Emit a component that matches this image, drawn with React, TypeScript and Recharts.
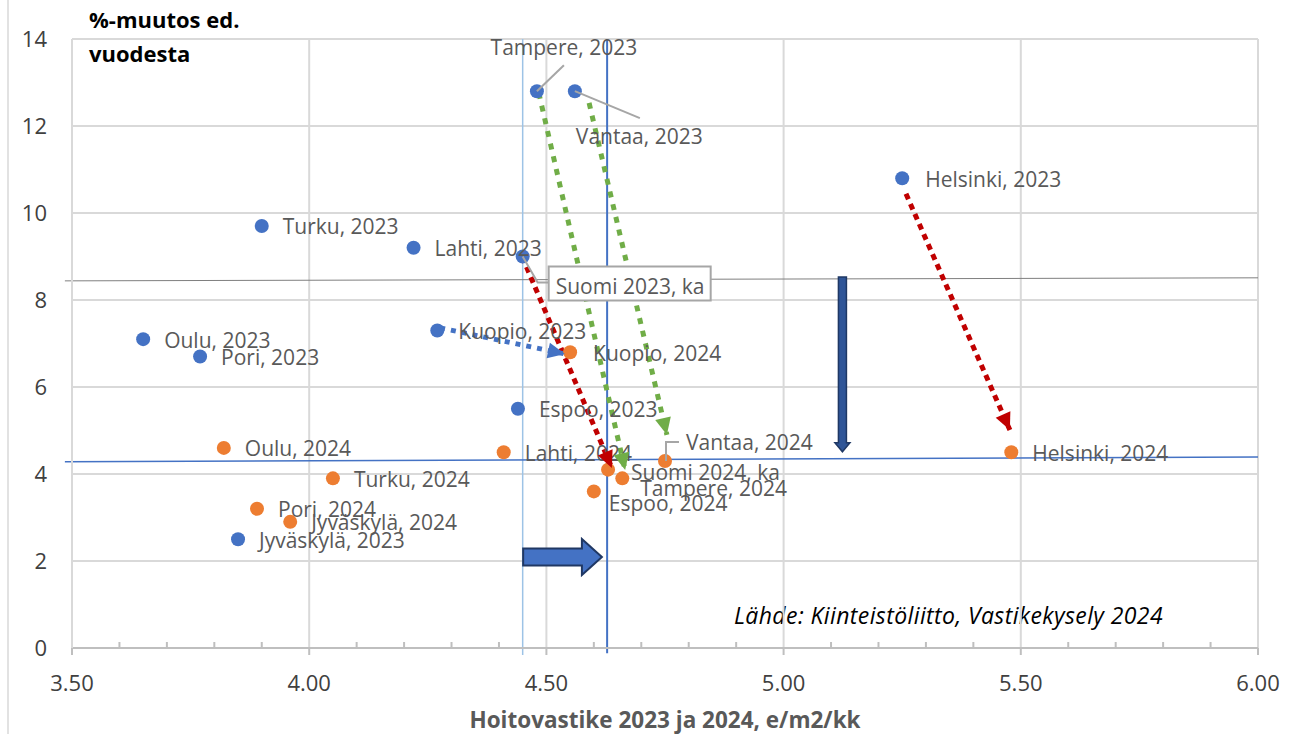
import React from 'react';
import {
  ComposedChart, Scatter, Line, XAxis, YAxis, CartesianGrid, ReferenceLine, Customized,
} from 'recharts';

// ---------- data ----------
const names2023 = ['Tampere, 2023', 'Vantaa, 2023', 'Helsinki, 2023', 'Turku, 2023', 'Lahti, 2023', 'Suomi 2023, ka', 'Kuopio, 2023', 'Oulu, 2023', 'Pori, 2023', 'Espoo, 2023', 'Jyväskylä, 2023'];
const x2023 = [4.48, 4.56, 5.25, 3.90, 4.22, 4.45, 4.27, 3.65, 3.77, 4.44, 3.85];
const y2023 = [12.8, 12.8, 10.8, 9.7, 9.2, 9.0, 7.3, 7.1, 6.7, 5.5, 2.5];

const names2024 = ['Kuopio, 2024', 'Oulu, 2024', 'Lahti, 2024', 'Vantaa, 2024', 'Helsinki, 2024', 'Turku, 2024', 'Suomi 2024, ka', 'Tampere, 2024', 'Espoo, 2024', 'Pori, 2024', 'Jyväskylä, 2024'];
const x2024 = [4.55, 3.82, 4.41, 4.75, 5.48, 4.05, 4.63, 4.66, 4.60, 3.89, 3.96];
const y2024 = [6.8, 4.6, 4.5, 4.3, 4.5, 3.9, 4.1, 3.9, 3.6, 3.2, 2.9];

const xMajorTicks = [3.5, 4.0, 4.5, 5.0, 5.5, 6.0];
const xAllTicks = [3.5, 3.6, 3.7, 3.8, 3.9, 4.0, 4.1, 4.2, 4.3, 4.4, 4.5, 4.6, 4.7, 4.8, 4.9, 5.0, 5.1, 5.2, 5.3, 5.4, 5.5, 5.6, 5.7, 5.8, 5.9, 6.0];
const yTicks = [0, 2, 4, 6, 8, 10, 12, 14];

// annotation arrows (data coordinates)
const redArrows = [
  [{ x: 4.449, y: 8.99 }, { x: 4.638, y: 4.14 }],
  [{ x: 5.258, y: 10.44 }, { x: 5.477, y: 5.01 }],
];
const greenArrows = [
  [{ x: 4.484, y: 12.76 }, { x: 4.666, y: 4.09 }],
  [{ x: 4.590, y: 12.53 }, { x: 4.754, y: 4.90 }],
];
const blueArrows = [
  [{ x: 4.276, y: 7.36 }, { x: 4.539, y: 6.76 }],
];
const downBlockArrow = [{ x: 5.124, y: 8.53 }, { x: 5.124, y: 4.51 }];
const rightBlockArrow = [{ x: 4.451, y: 2.09 }, { x: 4.617, y: 2.09 }];

// reference lines
const avgX2023 = 4.45;
const avgX2024 = 4.628;
const grayHLine = [{ x: 3.485, y: 8.44 }, { x: 6.0, y: 8.51 }];
const blueHLine = [{ x: 3.485, y: 4.28 }, { x: 6.0, y: 4.39 }];

const rows2023 = names2023.map((name, i) => ({ name, x: x2023[i], y: y2023[i] }));
const rows2024 = names2024.map((name, i) => ({ name, x: x2024[i], y: y2024[i] }));

// ---------- styles ----------
const FONT = '"Open Sans", "Noto Sans", sans-serif';
const BLUE = '#4472C4';
const ORANGE = '#ED7D31';
const LABEL = '#595959';

type LabelOpt = { dx?: number; dy?: number; anchor?: 'start' | 'middle' | 'end'; leader?: number[][]; box?: number[] };
const labelOpts: Record<string, LabelOpt> = {
  'Tampere, 2023': { dx: 27, dy: -44, anchor: 'middle', leader: [[0, 0], [27, -26]] },
  'Vantaa, 2023': { dx: 1, dy: 45, leader: [[0, 0], [65, 27]] },
  'Suomi 2023, ka': { dx: 33, dy: 30, leader: [[0, 0], [15, 26], [26, 26]], box: [26, 10, 162, 34] },
  'Vantaa, 2024': { dx: 21, dy: -18, leader: [[1, 0], [1, -19], [14, -19]] },
  'Suomi 2024, ka': { dx: 23, dy: 3 },
  'Tampere, 2024': { dx: 18, dy: 10 },
  'Espoo, 2024': { dx: 15, dy: 12 },
  'Helsinki, 2023': { dx: 23, dy: 1 },
  'Kuopio, 2024': { dx: 23, dy: 1 },
};

const PointShape = (color: string) => (props: any) => {
  const { cx, cy } = props;
  if (cx == null || cy == null) return <g />;
  return <circle cx={cx} cy={cy} r={7} fill={color} />;
};

const LabelShape = (props: any) => {
  const { cx, cy, payload } = props;
  if (cx == null || cy == null || !payload) return <g />;
  const o = labelOpts[payload.name] || {};
  const dx = o.dx ?? 21;
  const dy = o.dy ?? 1;
  const anchor = o.anchor ?? 'start';
  return (
    <g>
      {o.leader && (
        <polyline
          points={o.leader.map(([a, b]) => `${cx + a},${cy + b}`).join(' ')}
          fill="none" stroke="#A6A6A6" strokeWidth={2}
        />
      )}
      {o.box && (
        <rect x={cx + o.box[0]} y={cy + o.box[1]} width={o.box[2]} height={o.box[3]} fill="#fff" stroke="#A6A6A6" strokeWidth={2} />
      )}
      <text x={cx + dx} y={cy + dy} dy="0.35em" textAnchor={anchor} fontFamily={FONT} fontSize={21} fill={LABEL}>
        {payload.name}
      </text>
    </g>
  );
};

const XTick = (props: any) => {
  const { x, y, payload } = props;
  const v = payload.value as number;
  const major = Math.abs(v * 2 - Math.round(v * 2)) < 1e-6;
  if (major) {
    return (
      <g>
        <line x1={x} x2={x} y1={y} y2={y + 7} stroke="#BFBFBF" strokeWidth={2} />
        <text x={x} y={y + 43} textAnchor="middle" fontFamily={FONT} fontSize={22} fill="#404040">{v.toFixed(2)}</text>
      </g>
    );
  }
  return <line x1={x} x2={x} y1={y} y2={y - 6} stroke="#BFBFBF" strokeWidth={2} />;
};

// arrowhead drawn as the dot of the last point of a 2-point Line
const arrowHeadDot = (color: string, head: number, half: number) => (props: any) => {
  const { index, points, cx, cy } = props;
  const k = `ah-${index}-${cx}-${cy}`;
  if (index !== 1 || !points || points.length < 2) return <g key={k} />;
  const p0 = points[0];
  const x1 = p0.x, y1 = p0.y, x2 = cx, y2 = cy;
  const dx = x2 - x1, dy = y2 - y1;
  const L = Math.hypot(dx, dy) || 1;
  const ux = dx / L, uy = dy / L;
  const bx = x2 - ux * head, by = y2 - uy * head;
  const nx = -uy, ny = ux;
  return (
    <g key={k}>
      <rect x={bx - 0} y={by} width={0} height={0} fill="none" />
      <polygon points={`${x2},${y2} ${bx + nx * half},${by + ny * half} ${bx - nx * half},${by - ny * half}`} fill={color} />
    </g>
  );
};

const blockArrowDot = (fill: string, stroke: string, shaftHalf: number, headHalf: number, headLen: number, sw: number) => (props: any) => {
  const { index, points, cx, cy } = props;
  const k = `ba-${index}-${cx}-${cy}`;
  if (index !== 1 || !points || points.length < 2) return <g key={k} />;
  const x1 = points[0].x, y1 = points[0].y, x2 = cx, y2 = cy;
  const dx = x2 - x1, dy = y2 - y1;
  const L = Math.hypot(dx, dy) || 1;
  const ux = dx / L, uy = dy / L;
  const nx = -uy, ny = ux;
  const bx = x2 - ux * headLen, by = y2 - uy * headLen;
  const pts = [
    [x1 + nx * shaftHalf, y1 + ny * shaftHalf],
    [bx + nx * shaftHalf, by + ny * shaftHalf],
    [bx + nx * headHalf, by + ny * headHalf],
    [x2, y2],
    [bx - nx * headHalf, by - ny * headHalf],
    [bx - nx * shaftHalf, by - ny * shaftHalf],
    [x1 - nx * shaftHalf, y1 - ny * shaftHalf],
  ];
  return <polygon key={k} points={pts.map(([a, b]) => `${a},${b}`).join(' ')} fill={fill} stroke={stroke} strokeWidth={sw} />;
};

const StaticTexts = () => (
  <g>
    <line x1={8} y1={0} x2={8} y2={734} stroke="#D9D9D9" strokeWidth={1.5} />
    <text x={89} y={28} fontFamily={FONT} fontSize={22} fontWeight="bold" fill="#000">%-muutos ed.</text>
    <text x={89} y={62} fontFamily={FONT} fontSize={22} fontWeight="bold" fill="#000">vuodesta</text>
    <text x={1163} y={624} textAnchor="end" fontFamily={FONT} fontSize={23} letterSpacing={0.4} fontStyle="italic" fill="#000">Lähde: Kiinteistöliitto, Vastikekysely 2024</text>
    <text x={665} y={728} textAnchor="middle" fontFamily={FONT} fontSize={22.5} fontWeight="bold" fill="#595959">Hoitovastike 2023 ja 2024, e/m2/kk</text>
  </g>
);

export default function App() {
  return (
    <div style={{ position: 'absolute', left: 0, top: 0, width: 1304, height: 734, background: '#fff' }}>
      <ComposedChart width={1304} height={734} margin={{ top: 39, right: 46, bottom: 0, left: 0 }}>
        <CartesianGrid stroke="#D9D9D9" strokeWidth={2} vertical={false} />
        <XAxis
          type="number" dataKey="x" domain={[3.5, 6]} ticks={xAllTicks} interval={0}
          height={86} tickLine={false} tickSize={0} tickMargin={0}
          axisLine={{ stroke: '#BFBFBF', strokeWidth: 2 }} tick={<XTick />} allowDataOverflow
        />
        <YAxis
          type="number" dataKey="y" domain={[0, 14]} ticks={yTicks} interval={0}
          width={72} tickLine={false} tickSize={0} tickMargin={25}
          axisLine={{ stroke: '#D9D9D9', strokeWidth: 2 }}
          tick={{ fontFamily: FONT, fontSize: 22, fill: '#404040' }} allowDataOverflow
        />
        {xMajorTicks.slice(1).map((v) => (
          <ReferenceLine key={'vg' + v} x={v} stroke="#D9D9D9" strokeWidth={2} />
        ))}
        <ReferenceLine segment={[{ x: avgX2023, y: -0.16 }, { x: avgX2023, y: 14 }]} stroke="#9DC3E6" strokeWidth={1.5} ifOverflow="visible" />
        <ReferenceLine segment={[{ x: avgX2024, y: -0.12 }, { x: avgX2024, y: 14 }]} stroke={BLUE} strokeWidth={2} ifOverflow="visible" />
        <ReferenceLine segment={grayHLine} stroke="#7F7F7F" strokeWidth={1} ifOverflow="visible" />
        <ReferenceLine segment={blueHLine} stroke={BLUE} strokeWidth={1.5} ifOverflow="visible" />
        <Scatter data={rows2023} dataKey="y" isAnimationActive={false} shape={PointShape(BLUE)} />
        <Scatter data={rows2024} dataKey="y" isAnimationActive={false} shape={PointShape(ORANGE)} />
        <Scatter data={rows2023} dataKey="y" isAnimationActive={false} shape={LabelShape} />
        <Scatter data={rows2024} dataKey="y" isAnimationActive={false} shape={LabelShape} />
        {redArrows.map((seg, i) => (
          <Line key={'r' + i} data={seg} dataKey="y" type="linear" stroke="#C00000" strokeWidth={5} strokeDasharray="6 5"
            dot={arrowHeadDot('#C00000', 17, 8)} activeDot={false} isAnimationActive={false} />
        ))}
        {greenArrows.map((seg, i) => (
          <Line key={'g' + i} data={seg} dataKey="y" type="linear" stroke="#70AD47" strokeWidth={5} strokeDasharray="6 7"
            dot={arrowHeadDot('#70AD47', 17, 8)} activeDot={false} isAnimationActive={false} />
        ))}
        {blueArrows.map((seg, i) => (
          <Line key={'b' + i} data={seg} dataKey="y" type="linear" stroke={BLUE} strokeWidth={5} strokeDasharray="5 6"
            dot={arrowHeadDot(BLUE, 17, 8)} activeDot={false} isAnimationActive={false} />
        ))}
        <Line data={downBlockArrow} dataKey="y" type="linear" stroke="none" dot={blockArrowDot('#2F5597', '#1F3864', 4, 7.5, 9, 1.5)} activeDot={false} isAnimationActive={false} />
        <Line data={rightBlockArrow} dataKey="y" type="linear" stroke="none" dot={blockArrowDot(BLUE, '#203864', 8.5, 18, 20, 2)} activeDot={false} isAnimationActive={false} />
        <Customized component={StaticTexts} />
      </ComposedChart>
    </div>
  );
}
